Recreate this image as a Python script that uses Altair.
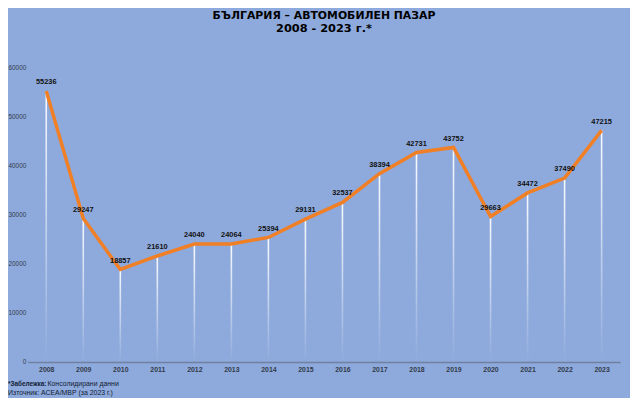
import altair as alt
import pandas as pd

years = [str(y) for y in range(2008, 2024)]
sales = [55236, 29247, 18857, 21610, 24040, 24064, 25394, 29131,
         32537, 38394, 42731, 43752, 29663, 34472, 37490, 47215]
y_ticks = [0, 10000, 20000, 30000, 40000, 50000, 60000]
title_text = "БЪЛГАРИЯ  – АВТОМОБИЛЕН  ПАЗАР"
subtitle_text = "2008 - 2023 г.*"
note_bold = "*Забележка:"
note_rest = "Консолидирани данни"
source_text = "Източник: АСЕА/МВР  (за 2023 г.)"

df = pd.DataFrame({"year": years, "sales": sales})

FONT = "Liberation Sans"
TFONT = "DejaVu Sans"

x = alt.X("year:O", scale=alt.Scale(type="point", padding=0.5),
          axis=alt.Axis(title=None, labelAngle=0, labelFontSize=7, labelColor="#333a4a",
                        labelFont=FONT, labelFontWeight="bold", ticks=False,
                        domainColor="#6f80a0", domainWidth=1.5, labelPadding=4, grid=False))
y = alt.Y("sales:Q", scale=alt.Scale(domain=[0, 60000], nice=False),
          axis=alt.Axis(title=None, values=y_ticks, format="d", labelFontSize=6.5,
                        labelColor="#333a4a", labelFont=FONT, domain=False, ticks=False,
                        grid=False, labelPadding=2))

base = alt.Chart(df)

drops = base.mark_bar(
    width=1.6,
    color=alt.Gradient(
        gradient="linear", x1=0, x2=0, y1=0, y2=1,
        stops=[alt.GradientStop(color="rgba(255,255,255,0.95)", offset=0),
               alt.GradientStop(color="rgba(255,255,255,0.5)", offset=0.5),
               alt.GradientStop(color="rgba(255,255,255,0.0)", offset=1)])
).encode(x=x, y=y, y2=alt.datum(0))

line = base.mark_line(color="#f07f26", strokeWidth=3.5, strokeJoin="miter").encode(x=x, y=y)

labels = base.mark_text(dy=-9, fontSize=7.5, font=FONT, fontWeight="bold", color="#111111").encode(
    x=x, y=y, text="sales:Q")

note1 = alt.Chart(pd.DataFrame({"t": [note_bold]})).mark_text(
    align="left", baseline="middle", fontSize=6.5, font=FONT, fontWeight="bold", color="#111a33"
).encode(x=alt.value(-20), y=alt.value(320), text="t:N")
note2 = alt.Chart(pd.DataFrame({"t": [note_rest]})).mark_text(
    align="left", baseline="middle", fontSize=7, font=FONT, color="#111a33"
).encode(x=alt.value(20), y=alt.value(320), text="t:N")
note3 = alt.Chart(pd.DataFrame({"t": [source_text]})).mark_text(
    align="left", baseline="middle", fontSize=7, font=FONT, color="#111a33"
).encode(x=alt.value(-20), y=alt.value(329), text="t:N")

chart = alt.layer(drops, line, labels, note1, note2, note3).properties(
    width=600, height=298,
    autosize=alt.AutoSizeParams(type="none"),
    padding={"left": 20, "top": 58, "right": 10, "bottom": 34},
    background="#8eaadc",
    title=alt.TitleParams(text=title_text, subtitle=subtitle_text, anchor="middle",
                          font=TFONT, fontSize=11, fontWeight="bold", color="#000000",
                          subtitleFont=TFONT, subtitleFontSize=11.5, subtitleFontWeight="bold",
                          subtitleColor="#000000", subtitlePadding=2, offset=31, frame="group")
).configure_view(stroke=None)

chart.save("out.html", embed_options={"renderer": "svg", "actions": False})
